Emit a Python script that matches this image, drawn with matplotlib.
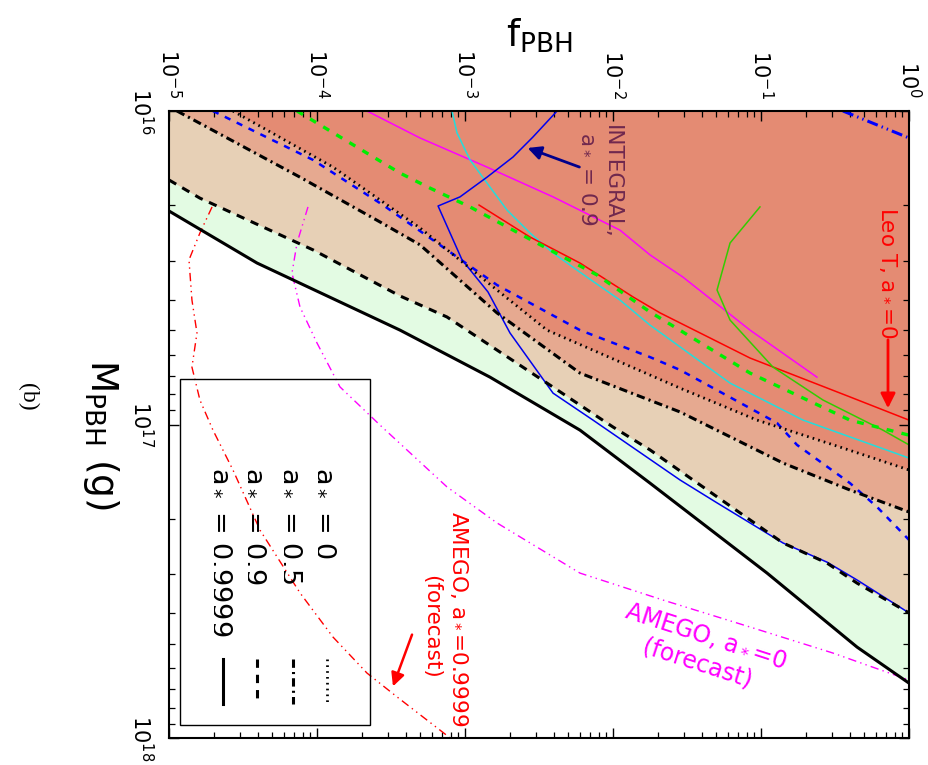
import numpy as np
import matplotlib.pyplot as plt
from matplotlib.patches import Rectangle

plt.rcParams['lines.scale_dashes'] = False
plt.rcParams['mathtext.fontset'] = 'dejavusans'

# all curves: log10(M_PBH / g) and log10(f_PBH)
# evaporation bounds for a* = 0 (dotted), 0.5 (dash-dot), 0.9 (dashed), 0.9999 (solid)
logM_a0 = [16.0, 16.179, 16.373, 16.571, 16.699, 16.884, 16.986, 17.072, 17.145]
logf_a0 = [-4.568, -3.892, -3.304, -2.784, -2.446, -1.547, -1.027, -0.466, 0.0]

logM_a05 = [16.0, 16.211, 16.354, 16.427, 16.644, 16.836, 16.960, 17.123, 17.209, 17.279]
logf_a05 = [-4.946, -4.115, -3.574, -3.304, -2.784, -2.223, -1.547, -0.851, -0.399, 0.0]

logM_a09 = [16.220, 16.278, 16.443, 16.590, 16.657, 16.868, 17.008, 17.081, 17.378,
            17.442, 17.506, 17.601]
logf_a09 = [-5.0, -4.791, -4.027, -3.439, -3.122, -2.446, -2.0, -1.75, -0.851,
            -0.554, -0.351, 0.0]

logM_a09999 = [16.319, 16.485, 16.699, 16.849, 17.018, 17.187, 17.474, 17.710, 17.825]
logf_a09999 = [-5.0, -4.405, -3.439, -2.831, -2.223, -1.75, -0.959, -0.351, 0.0]

# other constraints
logM_bdash = [16.0, 16.156, 16.300, 16.555, 16.699, 16.785, 16.826, 16.995, 17.065,
              17.187, 17.263, 17.368]
logf_bdash = [-4.703, -4.027, -3.554, -2.784, -2.223, -1.75, -1.547, -0.892, -0.757,
              -0.399, -0.216, 0.0]

logM_gdash = [16.0, 16.198, 16.246, 16.306, 16.421, 16.523, 16.641, 16.836, 16.986, 17.034]
logf_gdash = [-4.135, -3.439, -3.236, -2.966, -2.514, -2.108, -1.75, -1.074, -0.399, 0.0]

logM_red = [16.300, 16.402, 16.485, 16.593, 16.644, 16.788, 16.912, 16.986]
logf_red = [-2.905, -2.561, -2.223, -1.865, -1.682, -1.074, -0.399, 0.0]

logM_cyan = [16.0, 16.070, 16.156, 16.230, 16.316, 16.389, 16.453, 16.530, 16.603,
             16.683, 16.868, 16.986, 17.107]
logf_cyan = [-3.088, -3.054, -2.966, -2.851, -2.716, -2.561, -2.405, -2.176, -1.953,
             -1.75, -1.209, -0.716, 0.0]

logM_mag = [16.0, 16.086, 16.179, 16.274, 16.380, 16.459, 16.530, 16.699, 16.849]
logf_mag = [-3.662, -3.304, -2.851, -2.405, -1.953, -1.75, -1.527, -1.074, -0.622]

logM_green = [16.306, 16.421, 16.571, 16.667, 16.817, 16.922, 17.018, 17.065]
logf_green = [-1.007, -1.209, -1.297, -1.209, -0.919, -0.581, -0.176, 0.0]

logM_integral = [16.0, 16.083, 16.147, 16.211, 16.274, 16.303, 16.475, 16.577, 16.708,
                 16.900, 16.986, 17.177, 17.250, 17.378, 17.439, 17.496, 17.601]
logf_integral = [-2.378, -2.541, -2.676, -2.851, -3.034, -3.182, -3.020, -2.845, -2.696,
                 -2.405, -2.135, -1.547, -1.297, -0.851, -0.554, -0.351, 0.0]

logM_bddot = [16.0, 16.086]
logf_bddot = [-0.446, 0.0]

logM_amego0 = [16.306, 16.421, 16.517, 16.625, 16.740, 16.880, 17.002, 17.199, 17.314,
               17.474, 17.560, 17.646, 17.729, 17.815]
logf_amego0 = [-4.061, -4.135, -4.169, -4.115, -4.0, -3.845, -3.574, -3.122, -2.784,
               -2.223, -1.662, -1.074, -0.514, 0.0]

logM_amego9999 = [16.306, 16.389, 16.475, 16.603, 16.708, 16.817, 16.922, 17.018, 17.145,
                  17.337, 17.537, 17.678, 17.793, 17.869, 18.0]
logf_amego9999 = [-4.709, -4.791, -4.865, -4.845, -4.811, -4.845, -4.791, -4.703, -4.568,
                  -4.385, -4.115, -3.892, -3.662, -3.459, -3.10]

legend_labels = ['a$_*$ = 0', 'a$_*$ = 0.5', 'a$_*$ = 0.9', 'a$_*$ = 0.9999']

W, H = 929, 765
fmin, fmax = 1e-5, 1.0
Mmin, Mmax = 1e16, 1e18


def fig_xy(x, y):
    # pixel position in the picture -> figure fraction
    return (x / W, 1 - y / H)


fig = plt.figure(figsize=(W / 100, H / 100), dpi=100)
ax = fig.add_axes([169 / W, 1 - 738 / H, 740 / W, 627 / H])
ax.set_xscale('log')
ax.set_yscale('log')
ax.set_xlim(fmin, fmax)
ax.set_ylim(Mmax, Mmin)


def curve(logM, logf):
    return 10.0 ** np.array(logf), 10.0 ** np.array(logM)


def shade(logM, logf, color):
    f, M = curve(logM, logf)
    xs = np.concatenate([f, [fmax, fmax, fmin, fmin]])
    ys = np.concatenate([M, [M[-1], Mmin, Mmin, M[0]]])
    ax.fill(xs, ys, color=color, lw=0, zorder=1)


shade(logM_a09999, logf_a09999, '#e3fbe3')
shade(logM_a09, logf_a09, '#e7d0b6')
shade(logM_a05, logf_a05, '#e6a990')
shade(logM_a0, logf_a0, '#e48b73')

styles = {
    'dot': (0, (1.2, 3.0)),
    'dashdot': (0, (6, 3, 1.5, 3)),
    'dash': (0, (6, 5)),
    'solid': '-',
}

# colored constraint curves
ax.plot(*curve(logM_mag, logf_mag), color='#ff00ff', lw=1.1, zorder=2)
ax.plot(*curve(logM_cyan, logf_cyan), color='#22dddd', lw=1.1, zorder=2)
ax.plot(*curve(logM_red, logf_red), color='#ff0000', lw=1.1, zorder=2)
ax.plot(*curve(logM_green, logf_green), color='#33cc00', lw=1.1, zorder=2)
ax.plot(*curve(logM_integral, logf_integral), color='#0000ee', lw=1.1, zorder=3)
ax.plot(*curve(logM_gdash, logf_gdash), color='#00ee00', lw=2.4,
        linestyle=(0, (5, 6)), zorder=2)
ax.plot(*curve(logM_bdash, logf_bdash), color='#0000ff', lw=1.8,
        linestyle=(0, (4.5, 5)), zorder=2)
ax.plot(*curve(logM_bddot, logf_bddot), color='#0000ff', lw=2.2,
        linestyle=(0, (8, 3, 1, 3, 1, 3)), zorder=2)
ax.plot(*curve(logM_amego0, logf_amego0), color='#ff00ff', lw=1.0,
        linestyle=(0, (6, 3, 1, 3, 1, 3)), zorder=2)
ax.plot(*curve(logM_amego9999, logf_amego9999), color='#ff0000', lw=1.0,
        linestyle=(0, (6, 3, 1, 3, 1, 3)), zorder=2)

# spin-dependent bounds
ax.plot(*curve(logM_a0, logf_a0), color='k', lw=2.0, linestyle=styles['dot'], zorder=4)
ax.plot(*curve(logM_a05, logf_a05), color='k', lw=2.2, linestyle=styles['dashdot'], zorder=4)
ax.plot(*curve(logM_a09, logf_a09), color='k', lw=2.2, linestyle=styles['dash'], zorder=4)
ax.plot(*curve(logM_a09999, logf_a09999), color='k', lw=2.2, linestyle='-', zorder=4)

# axes styling
for s in ax.spines.values():
    s.set_linewidth(1.5)
    s.set_zorder(6)
ax.tick_params(axis='both', which='both', direction='in', top=True, bottom=True,
               left=True, right=True, labeltop=True, labelbottom=False,
               labelleft=True, labelright=False, zorder=6)
ax.tick_params(which='major', length=7, width=1.0, labelsize=15, labelrotation=-90)
ax.tick_params(which='minor', length=4, width=0.9)
ax.tick_params(axis='x', which='major', pad=9)
ax.tick_params(axis='y', which='major', pad=11)
plt.setp(ax.get_yticklabels(), va='center')

ax.set_xlabel(r'$\mathrm{f_{PBH}}$', fontsize=27, labelpad=2)
ax.xaxis.set_label_position('top')
fig.text(*fig_xy(101, 435), r'$\mathrm{M_{PBH}}$ (g)', fontsize=27, rotation=-90,
         ha='center', va='center')
fig.text(*fig_xy(28, 397), '(b)', fontsize=17, family='Liberation Serif',
         rotation=-90, ha='center', va='center')

# legend drawn by hand (rotated figure)
fig.add_artist(Rectangle(fig_xy(180, 725), 190 / W, 346 / H, transform=fig.transFigure,
                         fill=False, lw=1.0, edgecolor='k', zorder=7))
leg_x = [327, 293, 257, 223]
leg_ls = [styles['dot'], styles['dashdot'], styles['dash'], styles['solid']]
leg_lw = [2.0, 2.2, 2.2, 2.2]
for lab, xx, ls, lw in zip(legend_labels, leg_x, leg_ls, leg_lw):
    fig.text(*fig_xy(xx, 467), lab, fontsize=19.5, rotation=-90, ha='center', va='top')
    x0, y0 = fig_xy(xx, 659)
    x1, y1 = fig_xy(xx, 704)
    ax.plot([x0, x1], [y0, y1], color='k', lw=lw, linestyle=ls,
            transform=fig.transFigure, clip_on=False, zorder=7)

# annotations
fig.text(*fig_xy(612, 125), 'INTEGRAL,', fontsize=15.5, color='#70284e',
         rotation=-90, ha='center', va='top')
fig.text(*fig_xy(590, 132), 'a$_*$ = 0.9', fontsize=15.5, color='#70284e',
         rotation=-90, ha='center', va='top')
ax.annotate('', xy=fig_xy(525, 147), xytext=fig_xy(582, 168),
            xycoords='figure fraction', textcoords='figure fraction',
            arrowprops=dict(arrowstyle='-|>', color='#00008b', lw=2, mutation_scale=20))

fig.text(*fig_xy(888, 207), 'Leo T, a$_*$=0', fontsize=15.5, color='#ff0000',
         rotation=-90, ha='center', va='top')
ax.annotate('', xy=fig_xy(888, 411), xytext=fig_xy(888, 337),
            xycoords='figure fraction', textcoords='figure fraction',
            arrowprops=dict(arrowstyle='-|>', color='#ff0000', lw=2, mutation_scale=22))

fig.text(*fig_xy(459, 619), 'AMEGO, a$_*$=0.9999', fontsize=15.5, color='#ff0000',
         rotation=-90, ha='center', va='center')
fig.text(*fig_xy(431, 627), '(forecast)', fontsize=15.5, color='#ff0000',
         rotation=-90, ha='center', va='center')
ax.annotate('', xy=fig_xy(392, 689), xytext=fig_xy(413, 632),
            xycoords='figure fraction', textcoords='figure fraction',
            arrowprops=dict(arrowstyle='-|>', color='#ff0000', lw=1.8, mutation_scale=20))

fig.text(*fig_xy(706, 636), 'AMEGO, a$_*$=0', fontsize=17, color='#ff00ff',
         rotation=-18, rotation_mode='anchor', ha='center', va='center')
fig.text(*fig_xy(697, 664), '(forecast)', fontsize=17, color='#ff00ff',
         rotation=-18, rotation_mode='anchor', ha='center', va='center')

fig.savefig('out.png', dpi=100)
